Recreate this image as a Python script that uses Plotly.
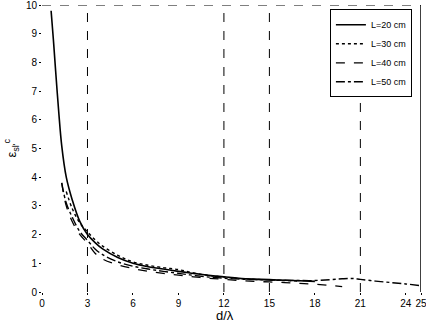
import plotly.graph_objects as go

# ---- data ----
x20 = [0.6, 0.75, 0.9, 1.1, 1.3, 1.6, 2.0, 2.5, 3.0, 3.5, 4.0, 5.0, 6.0, 7.0, 8.0, 9.0, 10.0, 11.0, 12.0, 13.0, 14.0, 15.0, 16.0, 17.0, 18.0]
y20 = [9.8, 8.8, 7.7, 6.3, 5.1, 4.0, 3.2, 2.45, 2.0, 1.72, 1.5, 1.2, 1.0, 0.88, 0.8, 0.72, 0.65, 0.58, 0.53, 0.48, 0.45, 0.43, 0.41, 0.39, 0.37]

x30 = [1.6, 2.0, 2.5, 3.0, 3.5, 4.0, 5.0, 6.0, 7.0, 8.0, 9.0, 10.0, 11.0, 12.0, 13.0, 14.0, 15.0, 16.0, 17.0]
y30 = [3.5, 2.9, 2.4, 2.1, 1.82, 1.6, 1.28, 1.05, 0.93, 0.85, 0.78, 0.66, 0.58, 0.52, 0.47, 0.44, 0.42, 0.4, 0.38]

x40 = [1.3, 1.6, 2.0, 2.5, 3.0, 3.5, 4.0, 5.0, 6.0, 7.0, 8.0, 9.0, 10.0, 11.0, 12.0, 13.0, 14.0, 15.0, 16.0, 17.0, 18.0, 19.0, 19.8]
y40 = [3.8, 3.0, 2.45, 2.0, 1.7, 1.35, 1.15, 0.95, 0.82, 0.72, 0.65, 0.59, 0.53, 0.48, 0.44, 0.4, 0.37, 0.35, 0.33, 0.3, 0.27, 0.23, 0.19]

x50 = [1.3, 1.6, 2.0, 2.5, 3.0, 3.5, 4.0, 5.0, 6.0, 7.0, 8.0, 9.0, 10.0, 11.0, 12.0, 13.0, 14.0, 15.0, 16.0, 17.0, 18.0, 19.0, 19.8, 20.5, 21.0, 22.0, 23.0, 24.0, 25.0]
y50 = [3.8, 3.1, 2.6, 2.1, 1.8, 1.5, 1.3, 1.05, 0.9, 0.8, 0.72, 0.65, 0.58, 0.52, 0.48, 0.45, 0.43, 0.42, 0.41, 0.4, 0.4, 0.43, 0.46, 0.47, 0.44, 0.38, 0.33, 0.28, 0.22]

x_ticks = [0, 3, 6, 9, 12, 15, 18, 21, 24, 25]
y_ticks = [0, 1, 2, 3, 4, 5, 6, 7, 8, 9, 10]
vlines = [3, 12, 15, 21]

fig = go.Figure()
series = [
    (x20, y20, "L=20 cm", "solid", 1.6),
    (x30, y30, "L=30 cm", "dot", 1.4),
    (x40, y40, "L=40 cm", "dash", 1.3),
    (x50, y50, "L=50 cm", "dashdot", 1.4),
]
for xs, ys, name, dash, w in series:
    fig.add_trace(go.Scatter(x=xs, y=ys, mode="lines", name=name,
                             line=dict(color="black", dash=dash, width=w, shape="spline")))

for v in vlines:
    fig.add_shape(type="line", x0=v, x1=v, y0=0, y1=10, xref="x", yref="y",
                  line=dict(color="black", width=1, dash="dash"))
fig.add_shape(type="line", x0=0, x1=25, y0=10, y1=10, xref="x", yref="y",
              line=dict(color="black", width=1, dash="dash"))
fig.add_shape(type="line", x0=25, x1=25, y0=0, y1=10, xref="x", yref="y",
              line=dict(color="black", width=1.5))

fig.add_annotation(text="d/λ", xref="paper", yref="paper", x=0.483, y=0,
                   yshift=-14, yanchor="top", showarrow=False,
                   font=dict(size=13))
fig.add_annotation(text="ε<sub>sl'</sub><sup>c</sup>", xref="paper", yref="paper",
                   x=0, y=0.5, xshift=-31, xanchor="center", yanchor="middle",
                   textangle=-90, showarrow=False, font=dict(size=13))

fig.update_layout(
    width=426, height=324,
    margin=dict(l=42, r=5, t=5, b=32, autoexpand=False),
    paper_bgcolor="white", plot_bgcolor="white",
    font=dict(family="Liberation Sans, Arial, sans-serif", size=9, color="black"),
    showlegend=True,
    legend=dict(x=0.976, y=0.985, xanchor="right", yanchor="top",
                bordercolor="black", borderwidth=1, bgcolor="white",
                font=dict(size=9), itemwidth=30, tracegroupgap=0),
)
fig.update_xaxes(range=[0, 25], tickmode="array", tickvals=x_ticks,
                 ticktext=[str(t) for t in x_ticks], automargin=False,
                 ticklabeloverflow="allow",
                 showgrid=False, zeroline=False, showline=False,
                 ticks="outside", ticklen=2, tickcolor="black",
                 tickfont=dict(size=10))
fig.update_yaxes(range=[0, 10], tickmode="array", tickvals=y_ticks, automargin=False,
                 ticklabeloverflow="allow",
                 showgrid=False, zeroline=False, showline=False,
                 ticks="outside", ticklen=2, tickcolor="black",
                 tickfont=dict(size=10))

fig.write_html("out.html", config={"displayModeBar": False},
               post_script="document.body.style.margin='0';document.body.style.padding='0';")
